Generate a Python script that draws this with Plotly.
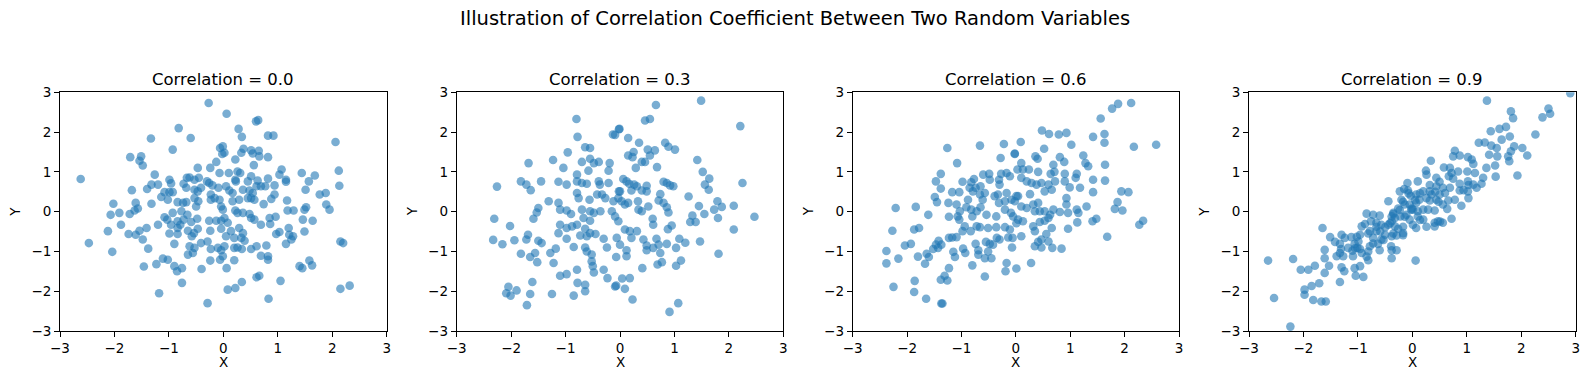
import plotly.graph_objects as go

correlations = ["0.0", "0.3", "0.6", "0.9"]
tick_vals = [-3, -2, -1, 0, 1, 2, 3]

x_r00 = [-0.27,-0.82,-0.60,-1.33,-0.93,-1.71,-1.51,-1.54,-1.48,-1.26,-2.62,-0.47,-0.24,-0.13,-0.06,-0.02,
 -0.99,-0.96,-1.32,-1.20,-1.40,-1.68,-0.67,-0.62,-0.53,-0.45,-0.30,-0.26,-0.20,-0.09,-1.08,-0.99,-0.93,-1.14,-1.02,
 -0.73,-0.68,-0.53,-0.47,-0.41,-0.23,-0.16,-2.02,-1.61,-1.32,-0.84,-0.74,-0.68,-0.50,-0.46,-0.53,-0.23,-0.04,
 -2.07,-1.91,-1.72,-1.63,-1.57,-0.93,-0.77,-1.08,-1.03,-0.66,-0.48,-0.26,-0.13,-0.04,
 -2.12,-1.88,-1.74,-1.61,-1.54,-1.41,-1.20,-0.96,-0.84,-0.79,-0.84,-0.73,-0.59,-0.47,-0.54,-0.65,-0.99,-0.84,-0.24,-0.04,
 -2.47,-2.04,-1.48,-1.38,-0.90,-0.62,-0.53,-0.58,-0.41,-0.29,-0.23,-0.10,-0.04,-0.65,-0.56,-1.11,-1.02,-1.23,-1.46,
 -0.90,-0.85,-0.76,-0.40,-0.24,-0.06,-0.76,-1.18,-0.29,
 0.06,0.60,0.64,0.28,0.34,0.82,0.92,2.06,-0.01,0.02,0.22,0.33,0.37,0.51,0.54,0.65,0.66,0.82,0.56,-0.07,0.10,0.26,0.31,
 0.23,0.22,0.45,0.51,0.63,0.82,1.07,1.03,1.15,1.15,1.44,1.57,1.68,2.12,2.13,1.51,1.77,1.88,0.05,0.11,0.17,0.36,0.48,
 0.54,0.61,0.69,0.77,0.94,0.94,0.88,0.51,0.57,-0.07,0.17,0.29,0.45,0.74,1.17,1.18,1.29,1.52,1.49,1.89,1.95,-0.01,0.22,
 0.26,0.36,0.48,0.51,0.57,0.69,0.85,0.96,0.86,1.46,1.64,1.20,1.03,0.97,1.21,1.28,1.15,1.25,1.49,0.02,0.08,0.14,0.29,
 0.36,0.33,0.39,0.20,0.05,0.02,-0.01,0.20,0.26,0.34,0.51,0.61,0.79,0.69,0.82,0.82,0.20,0.06,0.66,0.61,0.34,0.22,0.08,
 1.05,0.83,1.40,1.45,1.58,1.63,2.15,2.20,2.15,2.32]
y_r00 = [2.73,2.10,1.85,1.84,1.56,1.37,1.39,1.28,1.16,0.93,0.82,1.10,1.10,1.25,1.60,1.45,
 0.80,0.71,0.68,0.68,0.57,0.54,0.85,0.86,0.80,0.85,0.76,0.72,0.66,0.60,0.49,0.49,0.49,0.37,0.30,
 0.70,0.60,0.55,0.51,0.60,0.43,0.34,0.20,0.22,0.20,0.24,0.22,0.24,0.13,0.26,0.34,0.30,0.13,
 -0.08,-0.03,-0.06,0.03,0.08,-0.03,0.01,-0.14,-0.20,-0.08,-0.18,-0.23,-0.23,-0.23,
 -0.49,-0.33,-0.56,-0.58,-0.48,-0.41,-0.33,-0.33,-0.24,-0.33,-0.41,-0.20,-0.26,-0.43,-0.54,-0.48,-0.55,-0.56,-0.48,-0.43,
 -0.79,-1.01,-0.70,-0.93,-0.81,-0.87,-0.91,-0.62,-0.79,-0.75,-0.94,-0.91,-0.97,-1.08,-1.04,-1.18,-1.21,-1.32,-1.38,
 -1.37,-1.50,-1.42,-1.44,-1.23,-1.21,-1.79,-2.05,-2.30,
 2.46,2.27,2.30,2.08,1.88,1.91,1.91,1.75,1.64,1.48,1.31,1.48,1.58,1.54,1.46,1.53,1.39,1.37,1.17,0.97,0.97,1.01,0.97,
 0.76,0.80,0.76,0.89,0.78,0.83,1.06,0.93,0.80,0.75,0.97,0.76,0.91,1.03,0.65,0.55,0.43,0.47,0.64,0.53,0.47,0.55,0.53,
 0.47,0.64,0.64,0.64,0.66,0.43,0.32,0.34,0.30,0.30,0.26,0.30,0.34,0.19,0.28,0.03,0.03,0.11,0.05,0.18,0.05,0.05,0.03,
 -0.03,-0.03,-0.06,-0.16,-0.20,-0.33,-0.16,-0.13,-0.31,-0.20,-0.23,-0.41,-0.51,-0.56,-0.58,-0.62,-0.81,-0.70,-0.50,-0.16,-0.28,-0.49,-0.41,
 -0.54,-0.66,-0.73,-0.66,-0.62,-0.87,-1.12,-0.91,-0.90,-0.94,-0.94,-0.87,-0.85,-1.11,-1.12,-1.21,-1.22,-1.42,-1.61,-1.65,-1.77,-1.92,-1.96,
 -1.74,-2.19,-1.37,-1.42,-1.23,-1.35,-0.75,-0.79,-1.94,-1.86]

x_r03 = [-0.80,-0.78,-0.13,-0.01,-0.64,-0.55,-0.96,-1.68,-1.23,-1.04,-0.70,-0.55,-0.48,-0.39,-0.19,-0.21,-0.58,-0.79,
 -2.26,-1.82,-1.72,-1.64,-1.45,-1.13,-0.98,-0.79,-0.70,-0.61,-0.39,-0.37,-0.21,-0.02,-0.79,-0.76,-0.56,-0.42,-0.33,
 -0.27,-0.12,-1.31,-1.13,-1.10,-0.98,-0.90,-1.50,-1.53,-1.59,-0.70,-0.55,-0.48,-0.36,-0.15,-0.09,-0.55,-0.67,-2.31,
 -2.02,-1.10,-0.98,-0.88,-0.79,-0.64,-0.55,-0.45,-1.13,-0.98,-0.73,-0.61,-2.33,-2.16,-1.94,-1.72,-1.69,-1.50,-1.44,
 -0.85,-0.64,-0.61,-0.52,-0.30,-0.24,-0.06,-1.82,-1.65,-1.56,-1.52,-1.28,-1.18,-1.22,-0.07,-0.52,-0.50,-0.48,-0.30,
 -0.23,-0.79,-1.10,-0.98,-0.78,-0.64,-0.64,-0.85,-1.25,-1.61,-1.65,-2.05,-1.90,-2.09,-2.01,-1.71,-0.07,
 1.49,0.66,0.46,0.55,2.21,-0.02,-0.09,0.15,0.35,0.83,0.89,1.01,0.51,0.64,0.25,0.15,0.23,0.55,0.46,0.40,0.29,0.68,
 1.42,1.52,1.64,1.56,1.63,2.25,0.06,0.12,0.17,0.26,0.31,0.21,0.40,0.49,0.49,0.00,0.80,0.86,0.92,0.98,0.74,0.71,0.80,
 0.86,0.89,-0.03,0.03,0.09,0.15,0.33,0.34,0.40,0.52,1.26,1.45,1.55,1.79,1.87,1.73,1.80,2.09,2.47,1.33,1.29,1.39,0.60,
 0.61,0.95,0.88,-0.03,0.09,0.18,0.31,0.21,0.00,0.43,0.49,0.67,0.71,0.86,1.09,1.20,1.03,1.47,2.09,1.81,0.12,0.12,0.49,
 0.61,0.74,0.69,0.77,0.41,1.12,1.03,0.04,0.18,0.09,-0.09,0.23,1.07,0.91]
y_r03 = [2.33,1.88,1.94,2.08,1.62,1.60,1.49,1.22,1.30,1.10,1.25,1.33,1.22,1.25,1.22,1.03,1.03,0.93,
 0.63,0.76,0.68,0.54,0.76,0.75,0.68,0.76,0.72,0.70,0.76,0.68,0.72,0.51,0.47,0.34,0.30,0.43,0.43,
 0.34,0.26,0.26,0.22,0.05,0.03,-0.06,0.09,-0.02,-0.18,0.05,0.01,-0.03,0.01,0.01,-0.12,-0.23,-0.16,-0.18,
 -0.36,-0.33,-0.41,-0.37,-0.33,-0.43,-0.54,-0.56,-0.54,-0.68,-0.60,-0.62,-0.71,-0.82,-0.72,-0.70,-0.58,-0.73,-0.79,
 -0.89,-0.90,-1.00,-1.08,-0.68,-0.90,-0.66,-1.06,-1.14,-1.04,-1.27,-1.04,-0.93,-1.29,-1.14,-1.25,-1.37,-1.53,-1.46,
 -1.67,-1.46,-1.61,-1.57,-1.79,-1.84,-2.00,-2.11,-2.07,-1.77,-2.07,-1.89,-1.98,-2.05,-2.11,-2.35,-1.86,
 2.79,2.68,2.29,2.33,2.15,2.07,1.93,1.85,1.73,1.73,1.63,1.56,1.56,1.54,1.50,1.41,1.37,1.41,1.25,1.25,1.10,1.12,
 1.30,1.00,0.83,0.68,0.55,0.72,0.82,0.76,0.70,0.68,0.64,0.53,0.53,0.65,0.51,0.51,0.75,0.72,0.66,0.64,0.44,0.28,0.22,
 0.11,-0.02,0.34,0.26,0.18,0.22,0.26,0.05,0.01,0.13,0.38,0.14,-0.06,0.26,0.12,0.05,-0.16,0.15,-0.13,-0.10,-0.26,-0.26,-0.18,
 -0.33,-0.35,-0.44,-0.24,-0.45,-0.49,-0.49,-0.66,-0.83,-0.70,-0.85,-0.68,-0.83,-0.81,-0.68,-0.78,-0.91,-0.75,-0.45,-1.06,-0.97,-1.12,-0.97,
 -0.91,-1.04,-1.33,-1.27,-1.42,-1.23,-1.36,-1.68,-1.67,-1.94,-1.88,-2.21,-2.30,-2.52]

x_r06 = [-1.26,-0.66,-0.22,-1.08,-0.28,-0.02,-1.38,-1.47,-1.38,-1.49,-1.45,-1.24,-1.17,-1.04,-0.98,-0.82,-0.77,-0.85,
 -0.74,-0.65,-0.60,-0.49,-0.48,-0.31,-0.27,-0.17,-0.11,0.03,-0.88,-0.79,-0.66,-0.61,-0.57,-0.39,-0.33,-0.30,-0.17,
 -0.08,-0.20,-0.31,0.01,-1.09,-1.03,-0.91,-1.23,-1.07,-1.04,-0.82,-0.80,-0.72,-0.65,-0.54,-0.36,-0.20,-0.09,-0.05,
 0.01,-2.21,-1.84,-1.61,-0.94,-0.83,-0.72,-0.66,-0.51,-0.36,-0.20,-0.11,-2.27,-1.87,-1.78,-1.23,-1.17,-1.09,-0.98,
 -0.35,-0.30,-0.14,-0.06,-0.07,-2.04,-1.93,-2.38,-2.38,-2.16,-1.80,-1.64,-1.60,-1.67,-1.52,-1.47,-1.42,-1.37,-1.43,
 -1.15,-1.12,-0.97,-0.93,-0.74,-0.69,-0.69,-0.55,-0.48,-0.42,-0.51,-0.57,-0.45,-0.80,-0.57,-0.17,-0.19,0.01,-1.38,
 -1.31,-1.26,-1.23,-2.25,-1.86,-1.87,-1.65,-1.37,-1.35,
 1.88,2.12,1.77,1.56,0.48,0.61,0.79,0.93,1.42,1.63,1.63,1.02,2.17,2.58,0.09,-0.02,0.52,0.36,0.40,0.81,0.89,1.24,1.28,
 1.33,1.64,0.10,0.13,0.24,0.41,0.69,0.71,0.64,0.90,1.12,1.10,1.42,1.64,0.10,0.20,0.29,0.47,0.38,0.60,0.66,0.53,0.72,
 0.90,0.99,1.18,1.42,0.26,0.04,-0.02,0.10,0.20,0.32,0.41,0.44,0.35,0.53,0.63,0.69,0.81,0.93,0.93,0.96,1.12,1.15,1.30,
 1.41,1.48,1.94,2.07,1.87,1.82,1.96,2.27,2.34,1.68,1.13,0.96,0.04,0.13,0.32,0.35,0.44,0.53,0.60,0.66,0.56,0.10,0.47,
 0.41,0.60,0.35,0.47,0.67,0.84,0.28]
y_r06 = [1.60,1.66,1.70,1.22,1.35,1.46,0.95,0.76,0.58,0.37,0.24,0.22,0.49,0.49,0.75,0.74,0.82,0.60,
 0.60,0.64,0.93,0.95,0.80,0.80,0.95,0.97,0.89,1.06,0.30,0.51,0.43,0.30,0.47,0.39,0.43,0.68,0.47,
 0.30,0.26,0.22,0.39,0.18,0.01,0.11,-0.13,-0.12,-0.20,0.05,-0.12,0.01,0.11,-0.08,-0.12,0.05,-0.03,-0.12,
 -0.29,0.09,0.12,-0.08,-0.37,-0.49,-0.37,-0.39,-0.41,-0.39,-0.39,-0.45,-0.48,-0.45,-0.41,-0.66,-0.65,-0.64,-0.49,
 -0.66,-0.70,-0.65,-0.66,-0.90,-0.85,-0.81,-0.99,-1.30,-1.18,-1.13,-1.06,-1.14,-1.31,-0.94,-0.83,-0.73,-0.83,-0.91,
 -1.01,-1.14,-0.93,-1.04,-0.81,-0.97,-1.08,-0.76,-0.81,-0.83,-1.00,-1.17,-1.17,-1.35,-1.63,-1.29,-1.50,-1.43,-1.71,
 -1.61,-1.73,-1.42,-1.89,-1.74,-2.02,-2.19,-2.31,-2.31,
 2.71,2.73,2.59,2.34,2.04,1.95,1.94,1.98,1.88,1.95,1.73,1.68,1.63,1.68,1.75,1.45,1.58,1.39,1.33,1.37,1.25,1.41,1.22,
 1.14,1.18,1.22,1.06,1.06,1.00,1.18,1.00,0.95,0.95,0.95,0.85,0.80,0.78,0.85,0.76,0.72,0.72,0.68,0.68,0.55,0.51,0.76,
 0.76,0.61,0.60,0.49,0.44,0.39,0.26,0.13,0.09,0.18,0.22,0.01,0.01,0.01,-0.08,0.05,-0.01,0.34,0.18,-0.03,0.05,-0.03,0.13,
 -0.24,-0.18,0.51,0.49,0.24,0.07,0.03,-0.33,-0.23,-0.63,-0.27,-0.43,-0.20,-0.24,-0.37,-0.49,-0.26,-0.23,-0.16,-0.41,-0.56,-0.62,-0.70,
 -0.76,-0.75,-0.87,-0.90,-0.91,-0.93,-1.29]

x_r09 = [-0.09,-0.23,-0.15,-0.08,-0.03,-0.44,-0.20,-0.14,-0.02,-0.26,-0.35,-0.38,-0.32,-0.22,-0.11,-0.05,-0.84,-0.72,
 -0.60,-0.93,-0.87,-0.76,-0.66,-0.57,-0.50,-0.44,-0.38,-0.32,-0.26,-0.17,-0.29,-0.38,-0.50,-0.66,-0.78,-0.96,-0.72,
 -0.57,-0.63,-0.78,-0.81,-0.60,-0.39,-0.38,-0.29,-0.38,-1.65,-1.51,-1.30,-1.24,-1.12,-1.42,-1.33,-1.06,-1.01,-1.18,
 -1.10,-0.96,-0.99,-1.31,-1.33,-1.39,-1.27,-1.09,-0.93,-0.81,-1.61,-1.61,-1.53,-1.61,-1.79,-1.91,-2.05,-2.19,-2.65,
 -1.30,-1.25,-1.06,-0.96,-1.04,-0.90,-1.33,-1.71,-1.85,-1.98,-1.98,-1.82,-1.67,-1.59,-2.54,-2.24,
 2.90,1.37,1.81,1.85,2.50,2.39,2.53,2.26,1.44,1.60,1.72,1.79,1.64,1.22,1.33,1.45,1.55,1.87,1.81,1.76,1.78,2.02,2.11,
 1.41,1.56,1.52,1.36,1.93,1.53,0.78,0.75,0.87,1.02,1.09,1.12,1.15,1.01,0.84,0.69,0.58,0.72,0.67,0.75,0.34,0.25,0.26,
 0.10,0.44,0.50,0.56,0.44,0.32,0.20,0.07,0.35,0.50,0.60,0.69,0.87,1.02,1.12,1.18,1.27,1.30,1.02,0.87,0.78,0.90,0.66,
 0.64,0.56,0.44,0.32,0.13,0.07,-0.05,0.01,0.10,0.20,0.29,0.41,0.10,0.20,0.01,0.07,0.41,0.47,0.56,0.41,0.72,0.06,
 1.03,0.32,-0.07,0.14,0.42,0.94,-0.17,0.05,0.26,0.48,1.03,-0.23,-0.01,-0.35,-0.14,0.14,0.51,-0.66,-0.41,-0.17,0.26,
 -1.02,-0.81,-0.59,-0.35,-0.17,-0.72,-0.53,-1.05,-0.84]
y_r09 = [0.72,0.51,0.57,0.53,0.40,0.26,0.30,0.18,0.05,0.08,-0.03,-0.12,-0.16,-0.12,-0.08,-0.20,-0.05,-0.08,
 -0.10,-0.37,-0.31,-0.24,-0.28,-0.33,-0.39,-0.33,-0.24,-0.37,-0.43,-0.54,-0.60,-0.62,-0.58,-0.49,-0.49,-0.58,-0.66,
 -0.70,-0.81,-0.87,-1.00,-0.97,-0.87,-0.97,-0.97,-1.17,-0.41,-0.64,-0.58,-0.66,-0.64,-0.76,-0.81,-0.81,-0.91,-0.91,
 -0.98,-0.94,-0.75,-0.94,-1.04,-1.12,-1.12,-1.12,-1.04,-1.22,-0.96,-1.17,-1.36,-1.54,-1.36,-1.46,-1.46,-1.19,-1.23,
 -1.40,-1.50,-1.42,-1.37,-1.61,-1.64,-1.77,-1.80,-1.87,-1.96,-2.09,-2.22,-2.26,-2.26,-2.17,-2.89,
 2.98,2.79,2.52,2.35,2.59,2.37,2.46,1.94,2.02,2.08,2.13,1.89,1.81,1.73,1.74,1.66,1.60,1.64,1.52,1.39,1.27,1.60,1.41,
 1.43,1.39,1.16,1.10,0.91,0.88,1.53,1.39,1.41,1.37,1.31,1.20,0.97,1.01,1.01,1.10,1.11,0.97,0.89,0.83,1.28,1.03,0.93,
 0.76,0.85,0.75,0.60,0.64,0.51,0.51,0.43,0.43,0.43,0.47,0.60,0.70,0.76,0.68,0.60,0.70,0.85,0.51,0.53,0.30,0.15,0.28,
 0.07,0.18,0.30,0.28,0.30,0.22,0.18,0.05,0.01,0.05,0.05,0.03,-0.12,-0.20,-0.33,-0.41,-0.28,-0.24,-0.28,-0.37,-0.18,-1.23,
 0.67,0.67,0.46,0.46,0.50,0.54,0.25,0.29,0.34,0.25,0.34,0.04,0.08,-0.06,-0.13,-0.21,-0.25,-0.38,-0.29,-0.38,-0.38,
 -0.63,-0.55,-0.50,-0.55,-0.59,-0.80,-0.71,-0.92,-1.13]

xs = [x_r00, x_r03, x_r06, x_r09]
ys = [y_r00, y_r03, y_r06, y_r09]

# page body has an 8px margin; figure fills the rest of the 1589x384 window
PAD = 8
W, H = 1589 - 2 * PAD, 384 - 2 * PAD


def fx(px):
    return (px - PAD) / W


def fy(py):
    return 1 - (py - PAD) / H


panel_px = [(60, 386.7), (456.7, 783.3), (852.7, 1179), (1249, 1575.7)]
x_domains = [(fx(a), fx(b)) for a, b in panel_px]
y_domain = (fy(331), fy(92.3))

FONT = "DejaVu Sans"
fig = go.Figure()
annotations = []
for i in range(4):
    suffix = "" if i == 0 else str(i + 1)
    fig.add_trace(go.Scatter(
        x=xs[i], y=ys[i], mode="markers",
        xaxis="x" + suffix, yaxis="y" + suffix,
        marker=dict(size=8.6, color="#1f77b4", opacity=0.6, line=dict(width=0)),
        showlegend=False, hoverinfo="skip"))
    axis_common = dict(range=[-3, 3], tickvals=tick_vals, showgrid=False, zeroline=False,
                       showline=True, mirror=True, linecolor="black", linewidth=1,
                       ticks="outside", ticklen=5, tickwidth=1, tickcolor="black", automargin=False,
                       tickfont=dict(family=FONT, size=13.5, color="black"))
    fig.update_layout(**{
        "xaxis" + suffix: dict(domain=list(x_domains[i]), anchor="y" + suffix, **axis_common),
        "yaxis" + suffix: dict(domain=list(y_domain), anchor="x" + suffix, **axis_common),
    })
    cx = (x_domains[i][0] + x_domains[i][1]) / 2
    annotations.append(dict(text="Correlation = " + correlations[i], x=cx, y=fy(79),
                            xref="paper", yref="paper", showarrow=False, xanchor="center", yanchor="middle",
                            font=dict(family=FONT, size=16.5, color="black")))
    annotations.append(dict(text="X", x=cx, y=fy(362), xref="paper", yref="paper", showarrow=False,
                            xanchor="center", yanchor="middle", font=dict(family=FONT, size=13.5, color="black")))
    annotations.append(dict(text="Y", x=fx(panel_px[i][0] - 45), y=(y_domain[0] + y_domain[1]) / 2,
                            xref="paper", yref="paper", showarrow=False, textangle=-90,
                            xanchor="center", yanchor="middle", font=dict(family=FONT, size=13.5, color="black")))

annotations.append(dict(text="Illustration of Correlation Coefficient Between Two Random Variables",
                        x=fx(795), y=fy(18), xref="paper", yref="paper", showarrow=False,
                        xanchor="center", yanchor="middle", font=dict(family=FONT, size=19.5, color="black")))

fig.update_layout(template="none", width=W, height=H, margin=dict(l=0, r=0, t=0, b=0, autoexpand=False),
                  paper_bgcolor="white", plot_bgcolor="white", annotations=annotations)
fig.write_html("out.html")
